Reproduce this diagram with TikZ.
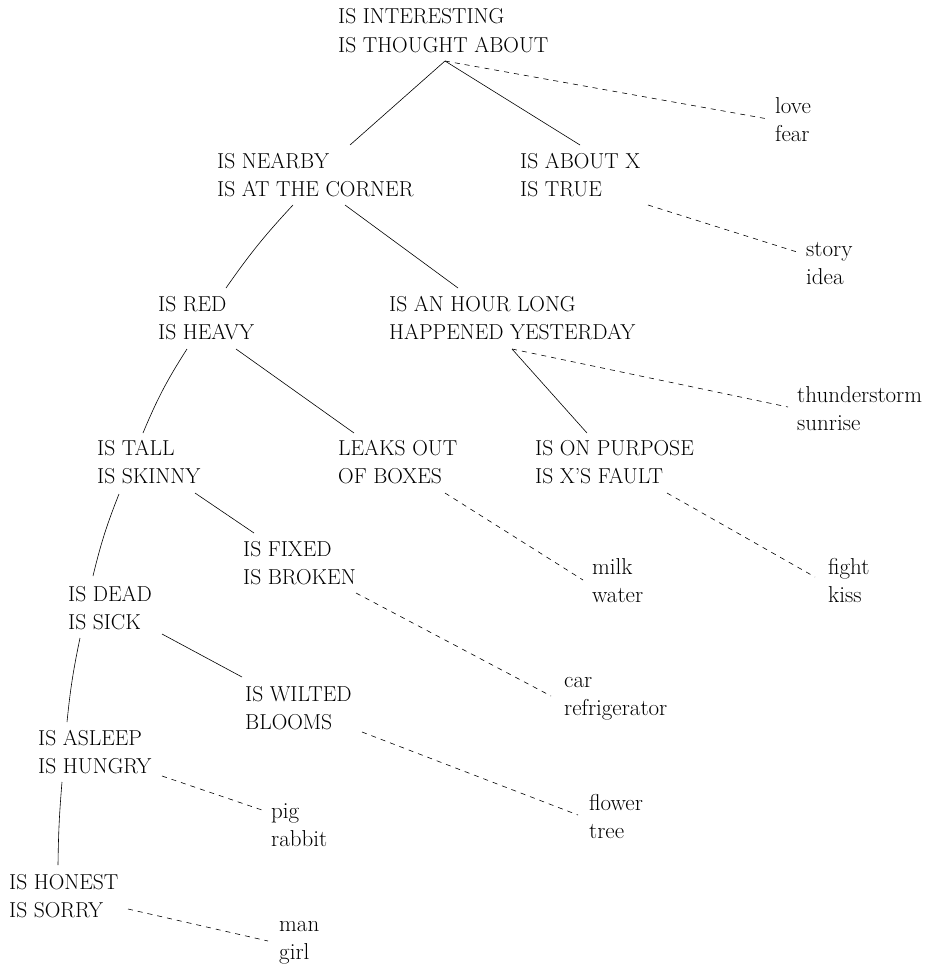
\documentclass[tikz,border=0pt]{standalone}
\usepackage{fontspec}

\begin{document}
\begin{tikzpicture} [
						x=1pt, y=-1pt,
						every node/.style={align=left, inner sep=0pt, anchor=base west,
							font=\fontsize{21.6}{28.5}\selectfont},
						word/.style={font=\fontsize{23}{28.5}\selectfont},
						is/.style={line width=0.6pt},
						hint/.style={line width=0.6pt, dash pattern=on 5pt off 5pt}
					]

\useasboundingbox (0,0) rectangle (935,966);

% property nodes
\node (root)    at (338,52.5)  {IS INTERESTING\\IS THOUGHT ABOUT};
\node (nearby)  at (217,196.5) {IS NEARBY\\IS AT THE CORNER};
\node (aboutx)  at (520,196.5) {IS ABOUT X\\IS TRUE};
\node (red)     at (158,339.5) {IS RED\\IS HEAVY};
\node (hour)    at (389,339.5) {IS AN HOUR LONG\\HAPPENED YESTERDAY};
\node (tall)    at (97,483.5)  {IS TALL\\IS SKINNY};
\node (leaks)   at (338,483.5) {LEAKS OUT\\OF BOXES};
\node (purpose) at (535,483.5) {IS ON PURPOSE\\IS X'S FAULT};
\node (fixed)   at (243,584.5) {IS FIXED\\IS BROKEN};
\node (dead)    at (68,629.5)  {IS DEAD\\IS SICK};
\node (wilted)  at (245,729.5) {IS WILTED\\BLOOMS};
\node (asleep)  at (38,773.5)  {IS ASLEEP\\IS HUNGRY};
\node (honest)  at (9,917.5)   {IS HONEST\\IS SORRY};

% word nodes
\node[word] (love)    at (775,141.5) {love\\fear};
\node[word] (story)   at (806,284.5) {story\\idea};
\node[word] (thunder) at (797,430.5) {thunderstorm\\sunrise};
\node[word] (milk)    at (592,602.5) {milk\\water};
\node[word] (fight)   at (828,602.5) {fight\\kiss};
\node[word] (car)     at (564,715.5) {car\\refrigerator};
\node[word] (flower)  at (589,838.5) {flower\\tree};
\node[word] (pig)     at (271,846.5) {pig\\rabbit};
\node[word] (man)     at (279,959.5) {man\\girl};

% tree edges
\draw[is] ([shift={(107,8.5)}]root.base west) -- ([shift={(133,-51.5)}]nearby.base west);
\draw[is] ([shift={(107,8.5)}]root.base west) -- ([shift={(60,-51.5)}]aboutx.base west);
\draw[is] ([shift={(76,8.5)}]nearby.base west) to[bend right=4] ([shift={(68,-51.5)}]red.base west);
\draw[is] ([shift={(128,8.5)}]nearby.base west) -- ([shift={(69,-51.5)}]hour.base west);
\draw[is] ([shift={(29,9.5)}]red.base west) to[bend right=5] ([shift={(46,-50.5)}]tall.base west);
\draw[is] ([shift={(78,9.5)}]red.base west) -- ([shift={(16,-50.5)}]leaks.base west);
\draw[is] ([shift={(123,9.5)}]hour.base west) -- ([shift={(52,-50.5)}]purpose.base west);
\draw[is] ([shift={(22,10.5)}]tall.base west) to[bend right=4] ([shift={(25,-53.5)}]dead.base west);
\draw[is] ([shift={(98,9.5)}]tall.base west) -- ([shift={(11,-51.5)}]fixed.base west);
\draw[is] ([shift={(12,8.5)}]dead.base west) to[bend right=3] ([shift={(29,-51.5)}]asleep.base west);
\draw[is] ([shift={(94,4.5)}]dead.base west) -- ([shift={(-3,-52.5)}]wilted.base west);
\draw[is] ([shift={(24,8.5)}]asleep.base west) to[bend right=2] ([shift={(49,-52.5)}]honest.base west);

% examples
\draw[hint] ([shift={(107,8.5)}]root.base west) -- ([shift={(-7,-22.5)}]love.base west);
\draw[hint] ([shift={(128,8.5)}]aboutx.base west) -- ([shift={(-9,-32.5)}]story.base west);
\draw[hint] ([shift={(123,9.5)}]hour.base west) -- ([shift={(-9,-23.5)}]thunder.base west);
\draw[hint] ([shift={(107,9.5)}]leaks.base west) -- ([shift={(-9,-22.5)}]milk.base west);
\draw[hint] ([shift={(132,9.5)}]purpose.base west) -- ([shift={(-13,-25.5)}]fight.base west);
\draw[hint] ([shift={(113,8.5)}]fixed.base west) -- ([shift={(-13,-19.5)}]car.base west);
\draw[hint] ([shift={(117,2.5)}]wilted.base west) -- ([shift={(-11,-23.5)}]flower.base west);
\draw[hint] ([shift={(124,2.5)}]asleep.base west) -- ([shift={(-9,-36.5)}]pig.base west);
\draw[hint] ([shift={(119,-8.5)}]honest.base west) -- ([shift={(-11,-18.5)}]man.base west);

\end{tikzpicture}
\end{document}
